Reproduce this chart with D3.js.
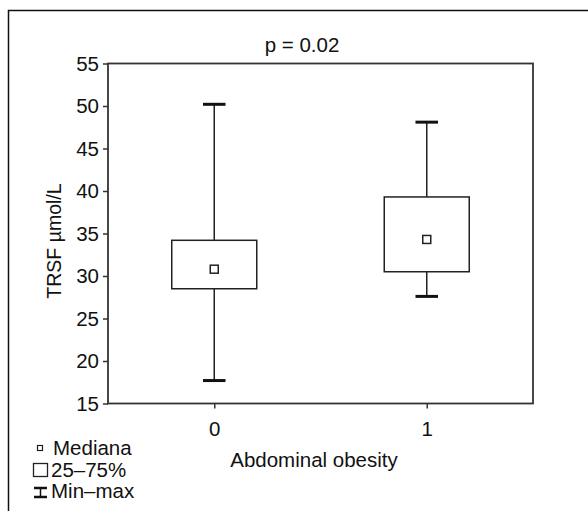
<!DOCTYPE html>
<html>
<head>
<meta charset="utf-8">
<script src="https://cdn.jsdelivr.net/npm/d3@7"></script>
<style>
  body { margin: 0; background: #fff; }
  text { font-family: "Liberation Sans", Arial, sans-serif; fill: #111; }
</style>
</head>
<body>
<div id="chart"></div>
<script>
// values
const groups = ["0", "1"];
const mins = [17.7, 27.6];
const q1s = [28.5, 30.5];
const medians = [30.8, 34.3];
const q3s = [34.2, 39.3];
const maxs = [50.2, 48.1];
const yTicks = [15, 20, 25, 30, 35, 40, 45, 50, 55];

const width = 588, height = 511;
const plot = { left: 108, right: 533, top: 63.5, bottom: 403.5 };
const fontSize = 20.5;

const svg = d3.select("#chart").append("svg")
  .attr("width", width)
  .attr("height", height);

// outer frame (cut at the right and bottom, like the original figure)
svg.append("rect")
  .attr("x", 8.5).attr("y", 10.5)
  .attr("width", 620).attr("height", 540)
  .attr("fill", "none").attr("stroke", "#111").attr("stroke-width", 1.5);

const x = d3.scaleLinear().domain([-0.5, 1.5]).range([plot.left, plot.right]);
const y = d3.scaleLinear().domain([15, 55]).range([plot.bottom, plot.top]);

// plot box
svg.append("rect")
  .attr("x", plot.left).attr("y", plot.top)
  .attr("width", plot.right - plot.left).attr("height", plot.bottom - plot.top)
  .attr("fill", "none").attr("stroke", "#333").attr("stroke-width", 1.8);

// axes
const yAxis = svg.append("g")
  .attr("transform", `translate(${plot.left},0)`)
  .call(d3.axisLeft(y).tickValues(yTicks).tickSize(5).tickPadding(4));

const xAxis = svg.append("g")
  .attr("transform", `translate(0,${plot.bottom})`)
  .call(d3.axisBottom(x).tickValues([0, 1]).tickFormat((d) => groups[d]).tickSize(5).tickPadding(13));

[yAxis, xAxis].forEach((ax) => {
  ax.select(".domain").remove();
  ax.attr("font-size", fontSize).attr("font-family", "Liberation Sans, Arial, sans-serif");
  ax.selectAll("line").attr("stroke", "#333").attr("stroke-width", 1.5);
  ax.selectAll("text").attr("fill", "#111");
});

const boxW = 0.4, capHalf = 0.053;

const boxes = svg.append("g").selectAll("g")
  .data(groups)
  .enter().append("g");

// whiskers
boxes.append("line")
  .attr("x1", (d, i) => x(i)).attr("x2", (d, i) => x(i))
  .attr("y1", (d, i) => y(maxs[i])).attr("y2", (d, i) => y(mins[i]))
  .attr("stroke", "#222").attr("stroke-width", 1.5);

// caps
[maxs, mins].forEach((arr) => {
  boxes.append("line")
    .attr("x1", (d, i) => x(i - capHalf)).attr("x2", (d, i) => x(i + capHalf))
    .attr("y1", (d, i) => y(arr[i])).attr("y2", (d, i) => y(arr[i]))
    .attr("stroke", "#111").attr("stroke-width", 3);
});

// 25-75% boxes
boxes.append("rect")
  .attr("x", (d, i) => x(i - boxW / 2))
  .attr("width", x(boxW) - x(0))
  .attr("y", (d, i) => y(q3s[i]))
  .attr("height", (d, i) => y(q1s[i]) - y(q3s[i]))
  .attr("fill", "#fff").attr("stroke", "#222").attr("stroke-width", 1.5);

// median markers
boxes.append("rect")
  .attr("x", (d, i) => x(i) - 4)
  .attr("y", (d, i) => y(medians[i]) - 4)
  .attr("width", 8).attr("height", 8)
  .attr("fill", "#fff").attr("stroke", "#222").attr("stroke-width", 1.5);

// titles
svg.append("text")
  .attr("x", 302).attr("y", 52)
  .attr("text-anchor", "middle").attr("font-size", fontSize)
  .text("p = 0.02");

svg.append("text")
  .attr("x", 314).attr("y", 467)
  .attr("text-anchor", "middle").attr("font-size", fontSize)
  .text("Abdominal obesity");

svg.append("text")
  .attr("transform", "translate(61,241) rotate(-90)")
  .attr("text-anchor", "middle").attr("font-size", 19.5)
  .text("TRSF µmol/L");

// legend
const legend = svg.append("g");
legend.append("rect")
  .attr("x", 37.5).attr("y", 445.5).attr("width", 5).attr("height", 5)
  .attr("fill", "#fff").attr("stroke", "#222").attr("stroke-width", 1.2);
legend.append("rect")
  .attr("x", 33.5).attr("y", 463.5).attr("width", 14).attr("height", 13)
  .attr("fill", "#fff").attr("stroke", "#222").attr("stroke-width", 1.3);
legend.append("line").attr("x1", 34).attr("x2", 47).attr("y1", 488).attr("y2", 488)
  .attr("stroke", "#111").attr("stroke-width", 2.5);
legend.append("line").attr("x1", 34).attr("x2", 47).attr("y1", 497).attr("y2", 497)
  .attr("stroke", "#111").attr("stroke-width", 2.5);
legend.append("line").attr("x1", 40.5).attr("x2", 40.5).attr("y1", 488).attr("y2", 497)
  .attr("stroke", "#111").attr("stroke-width", 1.5);

const legendLabels = ["Mediana", "25–75%", "Min–max"];
legend.selectAll("text.lg")
  .data(legendLabels)
  .enter().append("text")
  .attr("class", "lg")
  .attr("x", (d, i) => i === 0 ? 53 : 51)
  .attr("y", (d, i) => 455 + i * 21.7)
  .attr("font-size", fontSize)
  .text((d) => d);
</script>
</body>
</html>
